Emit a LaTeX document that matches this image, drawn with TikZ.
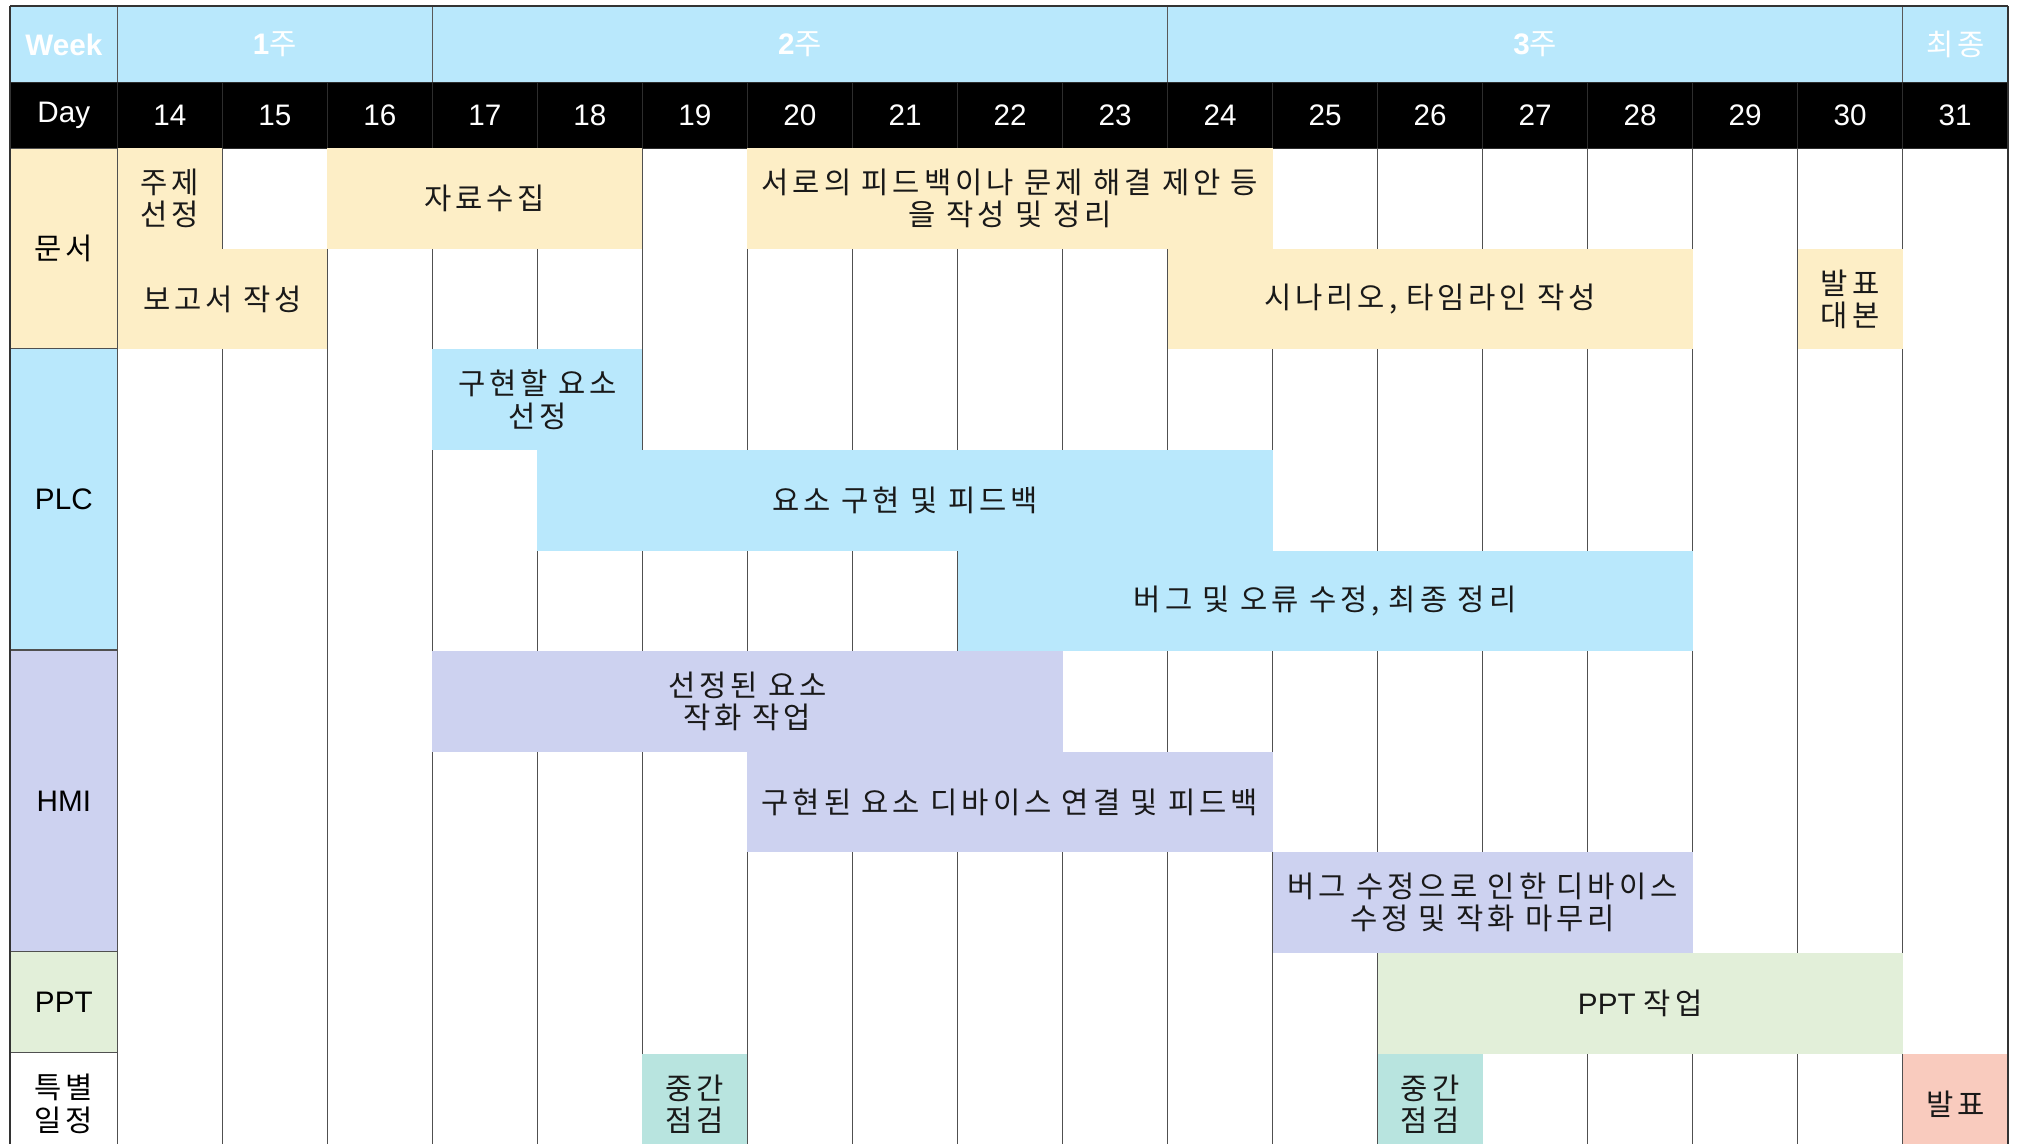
\documentclass[tikz,border=0pt]{standalone}
\usepackage{fontspec}
\setmainfont{Liberation Sans}
\newfontfamily\krf{Noto Sans CJK KR}[LetterSpace=13]
\definecolor{hdrblue}{HTML}{B9E8FC}
\definecolor{docyel}{HTML}{FDEEC6}
\definecolor{plcblue}{HTML}{B9E8FC}
\definecolor{hmipur}{HTML}{CDD2F0}
\definecolor{pptgrn}{HTML}{E2EFD9}
\definecolor{chkteal}{HTML}{B8E4DF}
\definecolor{prsred}{HTML}{F9CBBE}
\definecolor{gridgray}{HTML}{505050}
\tikzset{
  barbox/.style={anchor=north west, inner sep=0pt, outer sep=0pt, minimum height=78pt,
    align=center, font=\krf\fontsize{23}{25}\selectfont, text=black!90},
  hdrbox/.style={anchor=north west, inner sep=0pt, outer sep=0pt, minimum height=59pt,
    fill=hdrblue, draw=gray!70!black, line width=1pt, text=white, font=\fontsize{23}{25}\selectfont},
  daybox/.style={anchor=north west, inner sep=0pt, outer sep=0pt, minimum height=51pt,
    minimum width=81.44pt, fill=black, draw=gray!35!black, line width=0.8pt, text=white,
    font=\fontsize{23}{25}\selectfont},
  catbox/.style={anchor=north west, inner sep=0pt, outer sep=0pt, minimum width=83pt,
    draw=gridgray, line width=1pt, align=center, text=black,
    font=\fontsize{23}{25}\selectfont},
  gridline/.style={draw=gridgray, line width=1.2pt},
  outerline/.style={draw=black!80, line width=1.5pt}
}
\newcommand\gbar[6]{%
  \node[barbox, fill=#4, minimum width={(#2-#1+1)*81.44pt}] (#5)
    at ({91+(#1-14)*81.44}, {115+78*#3}) {#6};}
\begin{document}
\begin{tikzpicture}[x=1pt,y=-1pt]
\useasboundingbox (0,0) rectangle (1568,887);
\clip (0,0) rectangle (1568,887);
\fill[white] (0,0) rectangle (1568,887);
% week header
\node[hdrbox, minimum width=83pt] (hweek) at (8,5) {\bfseries Week};
\node[hdrbox, minimum width={3*81.44pt}] (hw1) at (91,5) {\textbf{1}{\krf 주}};
\node[hdrbox, minimum width={7*81.44pt}] (hw2) at ({91+3*81.44},5) {\textbf{2}{\krf 주}};
\node[hdrbox, minimum width={7*81.44pt}] (hw3) at ({91+10*81.44},5) {\textbf{3}{\krf 주}};
\node[hdrbox, minimum width=81.44pt] (hwf) at ({91+17*81.44},5) {{\krf 최종}};
% day header
\node[daybox, minimum width=83pt] (hday) at (8,64) {Day};
\foreach \d in {14,...,31}{
  \node[daybox] (d\d) at ({91+(\d-14)*81.44},64) {\d};
}
% grid
\foreach \k in {1,...,17}{
  \draw[gridline] ({91+\k*81.44},115) -- ({91+\k*81.44},900);
}
% doc bars
\gbar{14}{14}{0}{docyel}{b1}{주제\\선정}
\gbar{16}{18}{0}{docyel}{b2}{자료수집}
\gbar{20}{24}{0}{docyel}{b3}{서로의 피드백이나 문제 해결 제안 등\\을 작성 및 정리}
\gbar{14}{15}{1}{docyel}{b4}{보고서 작성}
\gbar{24}{28}{1}{docyel}{b5}{시나리오,\hspace{0.3em}타임라인 작성}
\gbar{30}{30}{1}{docyel}{b6}{발표\\대본}
% plc bars
\gbar{17}{18}{2}{plcblue}{p1}{구현할 요소\\선정}
\gbar{18}{24}{3}{plcblue}{p2}{요소 구현 및 피드백}
\gbar{22}{28}{4}{plcblue}{p3}{버그 및 오류 수정,\hspace{0.3em}최종 정리}
% hmi bars
\gbar{17}{22}{5}{hmipur}{h1}{선정된 요소\\작화 작업}
\gbar{20}{24}{6}{hmipur}{h2}{구현된 요소 디바이스 연결 및 피드백}
\gbar{25}{28}{7}{hmipur}{h3}{버그 수정으로 인한 디바이스\\수정 및 작화 마무리}
% ppt
\node[barbox, fill=pptgrn, minimum width={5*81.44pt}, font=\fontsize{23}{25}\selectfont] (t1)
  at ({91+12*81.44},{115+78*8}) {PPT {\krf 작업}};
% special
\gbar{19}{19}{9}{chkteal}{s1}{중간\\점검}
\gbar{26}{26}{9}{chkteal}{s2}{중간\\점검}
\gbar{31}{31}{9}{prsred}{s3}{발표}
% category column
\node[catbox, fill=docyel, minimum height=155pt] (cdoc) at (8,115) {{\krf 문서}};
\node[catbox, fill=plcblue, minimum height=234pt] (cplc) at (8,270) {PLC};
\node[catbox, fill=hmipur, minimum height=234pt] (chmi) at (8,504) {HMI};
\node[catbox, fill=pptgrn, minimum height=78pt] (cppt) at (8,738) {PPT};
\node[catbox, fill=white, minimum height=80pt, font=\krf\fontsize{23}{25}\selectfont] (cspc) at (8,816) {특별\\일정};
% outer border
\draw[outerline] (8,5) -- (1557,5);
\draw[outerline] (8,5) -- (8,900);
\draw[outerline] (1557,5) -- (1557,900);
\end{tikzpicture}
\end{document}
